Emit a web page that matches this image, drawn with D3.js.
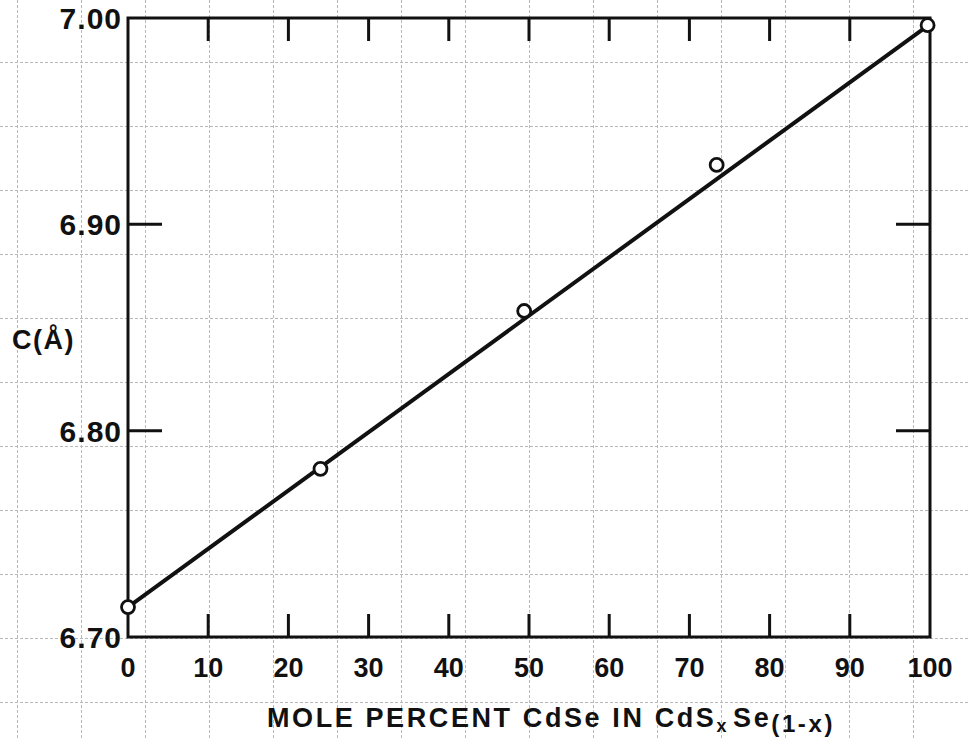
<!DOCTYPE html>
<html>
<head>
<meta charset="utf-8">
<script src="https://cdn.jsdelivr.net/npm/d3@7"></script>
<style>
  body { margin: 0; background: #fff; }
  text { font-family: "Liberation Sans", Arial, sans-serif; font-weight: bold; fill: #111; }
</style>
</head>
<body>
<div id="chart"></div>
<script>
// measured points: mole percent vs c lattice constant
const molePct = [0, 24, 49.4, 73.4, 99.7];
const cValues = [6.7145, 6.7815, 6.858, 6.9288, 6.9965];
// fitted straight line, end points
const fitX = [0, 100];
const fitY = [6.7145, 6.997];
const xTicks = [0, 10, 20, 30, 40, 50, 60, 70, 80, 90, 100];
const yTicks = [6.70, 6.80, 6.90, 7.00];

const W = 970, H = 739;
const margin = { top: 18, left: 128, right: 40, bottom: 102 };

const svg = d3.select("#chart").append("svg")
    .attr("width", W).attr("height", H);

// background dashed grid over the whole picture
const grid = svg.append("g").attr("stroke", "#b8b8b8").attr("stroke-width", 1)
    .attr("stroke-dasharray", "3,2");
d3.range(17, W, 64).forEach(gx => grid.append("line")
    .attr("x1", gx + 0.5).attr("x2", gx + 0.5).attr("y1", 0).attr("y2", H));
d3.range(62, H, 64).forEach(gy => grid.append("line")
    .attr("y1", gy + 0.5).attr("y2", gy + 0.5).attr("x1", 0).attr("x2", W));

const x = d3.scaleLinear().domain([0, 100]).range([margin.left, W - margin.right]);
const y = d3.scaleLinear().domain([6.70, 7.00]).range([H - margin.bottom, margin.top]);

const g = svg.append("g");

// frame
g.append("rect")
    .attr("x", x(0)).attr("y", y(7.00))
    .attr("width", x(100) - x(0)).attr("height", y(6.70) - y(7.00))
    .attr("fill", "none").attr("stroke", "#111").attr("stroke-width", 3);

// inward ticks, top and bottom
const inner = xTicks.filter(d => d > 0 && d < 100);
g.selectAll(".tb").data(inner).join("line")
    .attr("x1", d => x(d)).attr("x2", d => x(d))
    .attr("y1", y(6.70)).attr("y2", y(6.70) - 23)
    .attr("stroke", "#111").attr("stroke-width", 3);
g.selectAll(".tt").data(inner).join("line")
    .attr("x1", d => x(d)).attr("x2", d => x(d))
    .attr("y1", y(7.00)).attr("y2", y(7.00) + 23)
    .attr("stroke", "#111").attr("stroke-width", 3);

const yInner = yTicks.filter(d => d > 6.70 && d < 7.00);
g.selectAll(".tl").data(yInner).join("line")
    .attr("x1", x(0)).attr("x2", x(0) + 34)
    .attr("y1", d => y(d)).attr("y2", d => y(d))
    .attr("stroke", "#111").attr("stroke-width", 3);
g.selectAll(".tr").data(yInner).join("line")
    .attr("x1", x(100)).attr("x2", x(100) - 34)
    .attr("y1", d => y(d)).attr("y2", d => y(d))
    .attr("stroke", "#111").attr("stroke-width", 3);

// tick labels
g.selectAll(".xl").data(xTicks).join("text")
    .attr("x", d => x(d)).attr("y", y(6.70) + 40)
    .attr("text-anchor", "middle").attr("font-size", 27)
    .text(d => d);
g.selectAll(".yl").data(yTicks).join("text")
    .attr("x", x(0) - 6).attr("y", d => y(d) + 11)
    .attr("text-anchor", "end").attr("font-size", 30)
    .attr("letter-spacing", 1)
    .text(d => d.toFixed(2));

// fitted line
g.append("path")
    .datum(d3.zip(fitX, fitY))
    .attr("d", d3.line().x(d => x(d[0])).y(d => y(d[1])))
    .attr("fill", "none").attr("stroke", "#111").attr("stroke-width", 4);

// data circles
g.selectAll(".pt").data(d3.zip(molePct, cValues)).join("circle")
    .attr("cx", d => x(d[0])).attr("cy", d => y(d[1])).attr("r", 6.5)
    .attr("fill", "#fff").attr("stroke", "#111").attr("stroke-width", 2.8);

// axis titles
const xt = svg.append("text").attr("x", 267).attr("y", 727)
    .attr("font-size", 27).attr("letter-spacing", 2.6);
xt.append("tspan").text("MOLE PERCENT CdSe IN CdS");
xt.append("tspan").attr("font-size", 18).attr("dy", 5).text("x");
xt.append("tspan").attr("dy", -5).attr("dx", 4).text("Se");
xt.append("tspan").attr("font-size", 24).attr("dy", 5).text("(1-x)");

svg.append("text").attr("x", 12).attr("y", 349)
    .attr("font-size", 27).attr("letter-spacing", 1.5).text("C(Å)");
</script>
</body>
</html>
